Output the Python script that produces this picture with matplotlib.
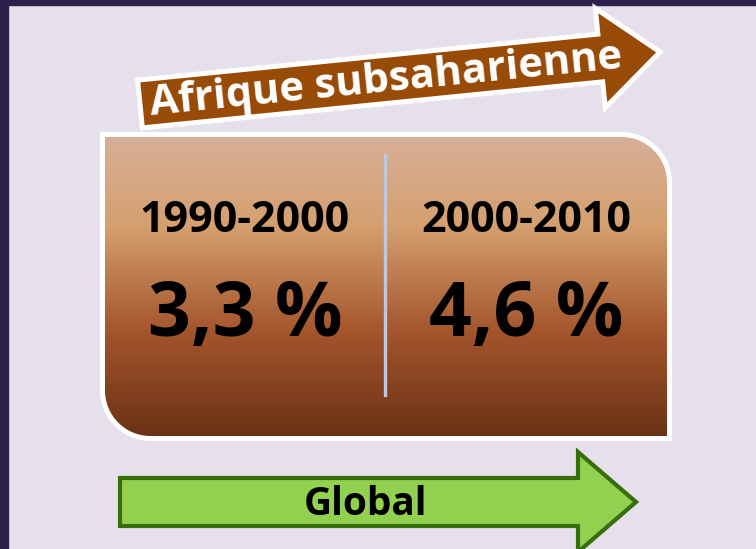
import numpy as np
import matplotlib
matplotlib.use('Agg')
import matplotlib.pyplot as plt
from matplotlib.path import Path
from matplotlib.patches import PathPatch, Polygon, Rectangle
from matplotlib.colors import LinearSegmentedColormap

# data
periods = ['1990-2000', '2000-2010']
growth = [3.3, 4.6]
region_label = 'Afrique subsaharienne'
global_label = 'Global'

plt.rcParams['font.family'] = ['Open Sans', 'DejaVu Sans']

W, H = 756, 549
fig = plt.figure(figsize=(W / 100, H / 100), dpi=100)
ax = fig.add_axes([0, 0, 1, 1])
ax.set_xlim(0, W)
ax.set_ylim(H, 0)
ax.axis('off')

# background + dark frame
fig.patch.set_facecolor('#E5E0EC')
ax.add_patch(Rectangle((0, 0), W, 5, color='#2F1F4D', zorder=1))
ax.add_patch(Rectangle((0, 0), 8, H, color='#2F1F4D', zorder=1))


def arrow_poly(x0, y0, x1, y1, body, head, head_len):
    # polygon of a block arrow from (x0, y0) to tip (x1, y1)
    d = np.array([x1 - x0, y1 - y0], dtype=float)
    L = np.hypot(*d)
    u = d / L
    n = np.array([u[1], -u[0]])  # "up" side in image coords
    p0 = np.array([x0, y0], dtype=float)
    b = p0 + u * (L - head_len)
    pts = [p0 + n * body, b + n * body, b + n * head, p0 + u * L,
           b - n * head, b - n * body, p0 - n * body]
    return np.array(pts), u, n


# top brown arrow
start = np.array([140, 104])
pts, u, n = arrow_poly(start[0], start[1], 660, 52, 24, 50, 60)
ax.add_patch(Polygon(pts, closed=True, facecolor='#974B06', edgecolor='white',
                     lw=3.6, joinstyle='miter', zorder=3))
ang = np.degrees(np.arctan2(-u[1], u[0]))
tp = start + u * 247 - n * 12
ax.text(tp[0], tp[1], region_label, rotation=ang, rotation_mode='anchor',
        ha='center', va='baseline', color='white', fontsize=30,
        fontweight='bold', zorder=4)

# gradient box with two rounded corners
x0, x1, y0, y1, r = 102.5, 669.5, 134.5, 438.5, 48
k = 0.5523 * r
verts = [(x0, y0), (x1 - r, y0),
         (x1 - r + k, y0), (x1, y0 + r - k), (x1, y0 + r),
         (x1, y1), (x0 + r, y1),
         (x0 + r - k, y1), (x0, y1 - r + k), (x0, y1 - r),
         (x0, y0)]
codes = [Path.MOVETO, Path.LINETO, Path.CURVE4, Path.CURVE4, Path.CURVE4,
         Path.LINETO, Path.LINETO, Path.CURVE4, Path.CURVE4, Path.CURVE4,
         Path.CLOSEPOLY]
box = PathPatch(Path(verts, codes), facecolor='none', edgecolor='white',
                lw=3.6, zorder=3)
ax.add_patch(box)
cmap = LinearSegmentedColormap.from_list(
    'brown', [(0, '#D7AF99'), (0.3, '#D5A06F'), (0.65, '#A4552C'), (1, '#6A3115')])
grad = np.linspace(0, 1, 256).reshape(-1, 1)
im = ax.imshow(grad, extent=(x0, x1, y1, y0), cmap=cmap, aspect='auto',
               zorder=2, interpolation='bilinear')
im.set_clip_path(box)

# divider
ax.plot([385, 385], [155, 395], color='#BFC8DF', lw=2.4, zorder=4)

# labels
centers = [245, 526]
for cx, per, g in zip(centers, periods, growth):
    ax.text(cx, 232, per, ha='center', va='baseline', fontsize=31,
            fontweight='bold', color='black', zorder=5)
    ax.text(cx, 336, f'{g:.1f} %'.replace('.', ','), ha='center',
            va='baseline', fontsize=54, fontweight='bold', color='black', zorder=5)

# bottom green arrow
gpts, _, _ = arrow_poly(120, 502, 636, 502, 24, 50, 58)
ax.add_patch(Polygon(gpts, closed=True, facecolor='#92D050', edgecolor='#376D0A',
                     lw=3, joinstyle='miter', zorder=3))
ax.text(365, 515, global_label, ha='center', va='baseline', fontsize=28,
        fontweight='bold', color='black', zorder=4)

fig.savefig('out.png', dpi=100, facecolor=fig.get_facecolor())
